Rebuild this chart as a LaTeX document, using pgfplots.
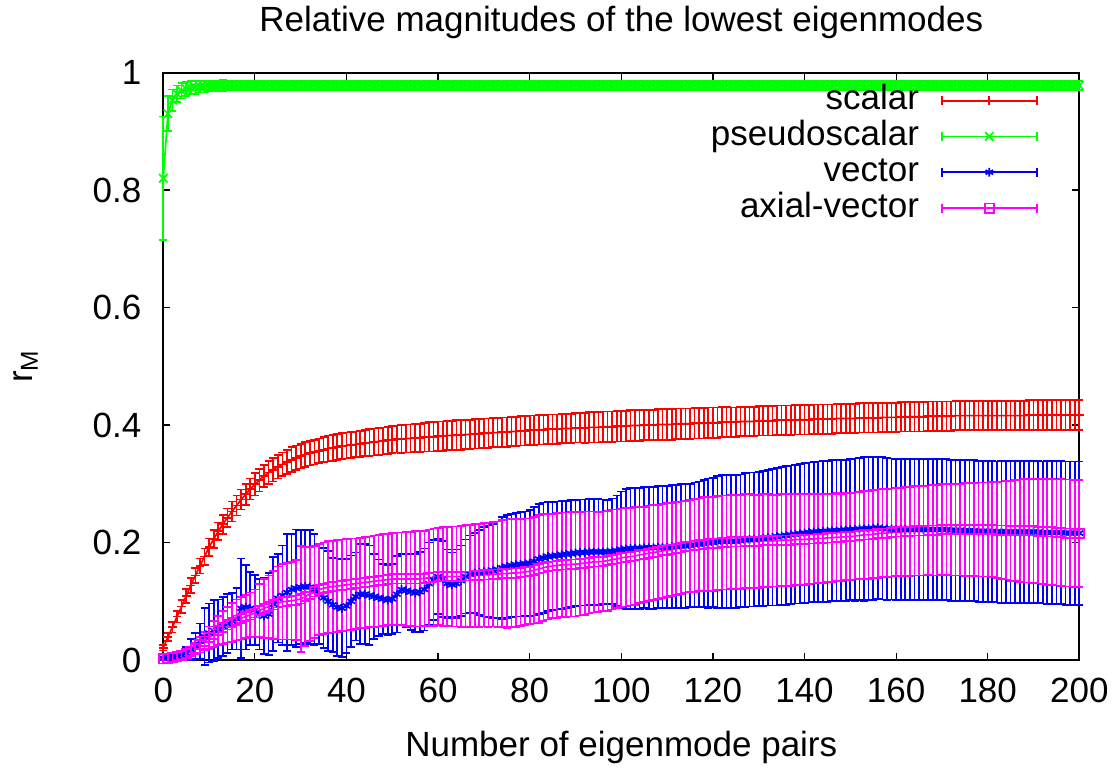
\documentclass[border=0pt]{standalone}
\usepackage{pgfplots}
\usepackage{pgfplotstable}
\pgfplotsset{compat=1.18}
\usepackage{fontspec}
\setmainfont{Liberation Sans}

\definecolor{gpred}{RGB}{255,0,0}
\definecolor{gpgreen}{RGB}{0,255,0}
\definecolor{gpblue}{RGB}{0,0,255}
\definecolor{gpmagenta}{RGB}{255,0,255}

% columns: x = number of eigenmode pairs, y = r_M, e = error
\pgfplotstableread[row sep=\\]{
x y e\\
0 0.021 0.005\\1 0.039 0.007\\2 0.056 0.009\\3 0.074 0.010\\4 0.091 0.011\\5 0.109 0.012\\6 0.127 0.013\\7 0.144 0.013\\
8 0.160 0.013\\9 0.176 0.014\\10 0.192 0.015\\11 0.206 0.015\\12 0.219 0.015\\13 0.231 0.016\\14 0.242 0.016\\15 0.253 0.017\\
16 0.263 0.017\\17 0.273 0.017\\18 0.282 0.018\\19 0.291 0.018\\20 0.299 0.019\\21 0.306 0.019\\22 0.313 0.019\\23 0.319 0.020\\
24 0.324 0.020\\25 0.329 0.020\\26 0.333 0.020\\27 0.337 0.020\\28 0.341 0.021\\29 0.344 0.021\\30 0.347 0.021\\31 0.350 0.021\\
32 0.352 0.021\\33 0.354 0.021\\34 0.356 0.021\\35 0.358 0.021\\36 0.360 0.022\\37 0.361 0.022\\38 0.363 0.022\\39 0.364 0.022\\
40 0.365 0.022\\41 0.366 0.022\\42 0.367 0.022\\43 0.368 0.022\\44 0.369 0.022\\45 0.370 0.023\\46 0.371 0.023\\47 0.372 0.023\\
48 0.373 0.023\\49 0.374 0.023\\50 0.375 0.023\\51 0.376 0.023\\52 0.376 0.024\\53 0.377 0.024\\54 0.377 0.024\\55 0.378 0.024\\
56 0.378 0.024\\57 0.379 0.024\\58 0.380 0.025\\59 0.380 0.025\\60 0.381 0.025\\61 0.381 0.025\\62 0.382 0.025\\63 0.382 0.025\\
64 0.383 0.025\\65 0.383 0.025\\66 0.384 0.025\\67 0.384 0.025\\68 0.385 0.025\\69 0.385 0.025\\70 0.386 0.025\\71 0.386 0.025\\
72 0.387 0.025\\73 0.387 0.025\\74 0.388 0.025\\75 0.388 0.025\\76 0.389 0.025\\77 0.389 0.025\\78 0.390 0.025\\79 0.390 0.025\\
80 0.391 0.025\\81 0.391 0.025\\82 0.392 0.025\\83 0.392 0.025\\84 0.393 0.025\\85 0.393 0.025\\86 0.393 0.025\\87 0.394 0.025\\
88 0.394 0.025\\89 0.394 0.025\\90 0.395 0.025\\91 0.395 0.025\\92 0.395 0.026\\93 0.396 0.026\\94 0.396 0.026\\95 0.396 0.026\\
96 0.397 0.026\\97 0.397 0.026\\98 0.397 0.026\\99 0.398 0.026\\100 0.398 0.026\\101 0.398 0.026\\102 0.399 0.026\\103 0.399 0.026\\
104 0.399 0.026\\105 0.400 0.026\\106 0.400 0.026\\107 0.400 0.026\\108 0.401 0.026\\109 0.401 0.026\\110 0.401 0.026\\111 0.401 0.026\\
112 0.402 0.026\\113 0.402 0.026\\114 0.402 0.026\\115 0.402 0.026\\116 0.403 0.026\\117 0.403 0.026\\118 0.403 0.026\\119 0.404 0.026\\
120 0.404 0.026\\121 0.404 0.026\\122 0.405 0.026\\123 0.405 0.026\\124 0.405 0.025\\125 0.405 0.025\\126 0.406 0.025\\127 0.406 0.025\\
128 0.406 0.025\\129 0.406 0.025\\130 0.407 0.025\\131 0.407 0.025\\132 0.407 0.025\\133 0.407 0.025\\134 0.408 0.025\\135 0.408 0.025\\
136 0.408 0.025\\137 0.408 0.025\\138 0.409 0.025\\139 0.409 0.025\\140 0.409 0.025\\141 0.409 0.025\\142 0.410 0.025\\143 0.410 0.025\\
144 0.410 0.025\\145 0.410 0.025\\146 0.410 0.025\\147 0.411 0.025\\148 0.411 0.025\\149 0.411 0.025\\150 0.411 0.025\\151 0.411 0.025\\
152 0.412 0.025\\153 0.412 0.025\\154 0.412 0.025\\155 0.412 0.025\\156 0.412 0.025\\157 0.413 0.025\\158 0.413 0.025\\159 0.413 0.025\\
160 0.413 0.025\\161 0.414 0.025\\162 0.414 0.025\\163 0.414 0.025\\164 0.414 0.025\\165 0.414 0.025\\166 0.414 0.025\\167 0.415 0.025\\
168 0.415 0.025\\169 0.415 0.025\\170 0.415 0.025\\171 0.415 0.025\\172 0.415 0.025\\173 0.416 0.025\\174 0.416 0.025\\175 0.416 0.025\\
176 0.416 0.025\\177 0.416 0.025\\178 0.416 0.025\\179 0.416 0.025\\180 0.416 0.025\\181 0.416 0.025\\182 0.416 0.025\\183 0.416 0.025\\
184 0.416 0.025\\185 0.416 0.025\\186 0.416 0.025\\187 0.416 0.025\\188 0.416 0.025\\189 0.417 0.025\\190 0.417 0.025\\191 0.417 0.025\\
192 0.417 0.025\\193 0.417 0.025\\194 0.417 0.025\\195 0.417 0.025\\196 0.417 0.025\\197 0.417 0.025\\198 0.417 0.025\\199 0.417 0.025\\
200 0.417 0.025\\
}\scalar

\pgfplotstableread[row sep=\\]{
x y e\\
0 0.820 0.105\\1 0.930 0.030\\2 0.953 0.018\\3 0.964 0.014\\4 0.969 0.013\\5 0.972 0.012\\6 0.974 0.011\\7 0.975 0.011\\
8 0.976 0.010\\9 0.976 0.010\\10 0.977 0.009\\11 0.977 0.009\\12 0.977 0.009\\13 0.978 0.009\\14 0.978 0.008\\15 0.978 0.008\\
16 0.978 0.008\\17 0.978 0.008\\18 0.978 0.008\\19 0.978 0.008\\20 0.978 0.0075\\21 0.978 0.0075\\22 0.978 0.0075\\23 0.978 0.0075\\
24 0.978 0.0075\\25 0.978 0.0075\\26 0.978 0.0075\\27 0.978 0.0075\\28 0.978 0.0075\\29 0.978 0.0075\\30 0.978 0.0075\\31 0.978 0.0075\\
32 0.978 0.0075\\33 0.978 0.0075\\34 0.978 0.0075\\35 0.978 0.0075\\36 0.978 0.0075\\37 0.978 0.0075\\38 0.978 0.0075\\39 0.978 0.0075\\
40 0.978 0.0075\\41 0.978 0.0075\\42 0.978 0.0075\\43 0.978 0.0075\\44 0.978 0.0075\\45 0.978 0.0075\\46 0.978 0.0075\\47 0.978 0.0075\\
48 0.978 0.0075\\49 0.978 0.0075\\50 0.978 0.0075\\51 0.978 0.0075\\52 0.978 0.0075\\53 0.978 0.0075\\54 0.978 0.0075\\55 0.978 0.0075\\
56 0.978 0.0075\\57 0.978 0.0075\\58 0.978 0.0075\\59 0.978 0.0075\\60 0.978 0.0075\\61 0.978 0.0075\\62 0.978 0.0075\\63 0.978 0.0075\\
64 0.978 0.0075\\65 0.978 0.0075\\66 0.978 0.0075\\67 0.978 0.0075\\68 0.978 0.0075\\69 0.978 0.0075\\70 0.978 0.0075\\71 0.978 0.0075\\
72 0.978 0.0075\\73 0.978 0.0075\\74 0.978 0.0075\\75 0.978 0.0075\\76 0.978 0.0075\\77 0.978 0.0075\\78 0.978 0.0075\\79 0.978 0.0075\\
80 0.978 0.0075\\81 0.978 0.0075\\82 0.978 0.0075\\83 0.978 0.0075\\84 0.978 0.0075\\85 0.978 0.0075\\86 0.978 0.0075\\87 0.978 0.0075\\
88 0.978 0.0075\\89 0.978 0.0075\\90 0.978 0.0075\\91 0.978 0.0075\\92 0.978 0.0075\\93 0.978 0.0075\\94 0.978 0.0075\\95 0.978 0.0075\\
96 0.978 0.0075\\97 0.978 0.0075\\98 0.978 0.0075\\99 0.978 0.0075\\100 0.978 0.0075\\101 0.978 0.0075\\102 0.978 0.0075\\103 0.978 0.0075\\
104 0.978 0.0075\\105 0.978 0.0075\\106 0.978 0.0075\\107 0.978 0.0075\\108 0.978 0.0075\\109 0.978 0.0075\\110 0.978 0.0075\\111 0.978 0.0075\\
112 0.978 0.0075\\113 0.978 0.0075\\114 0.978 0.0075\\115 0.978 0.0075\\116 0.978 0.0075\\117 0.978 0.0075\\118 0.978 0.0075\\119 0.978 0.0075\\
120 0.978 0.0075\\121 0.978 0.0075\\122 0.978 0.0075\\123 0.978 0.0075\\124 0.978 0.0075\\125 0.978 0.0075\\126 0.978 0.0075\\127 0.978 0.0075\\
128 0.978 0.0075\\129 0.978 0.0075\\130 0.978 0.0075\\131 0.978 0.0075\\132 0.978 0.0075\\133 0.978 0.0075\\134 0.978 0.0075\\135 0.978 0.0075\\
136 0.978 0.0075\\137 0.978 0.0075\\138 0.978 0.0075\\139 0.978 0.0075\\140 0.978 0.0075\\141 0.978 0.0075\\142 0.978 0.0075\\143 0.978 0.0075\\
144 0.978 0.0075\\145 0.978 0.0075\\146 0.978 0.0075\\147 0.978 0.0075\\148 0.978 0.0075\\149 0.978 0.0075\\150 0.978 0.0075\\151 0.978 0.0075\\
152 0.978 0.0075\\153 0.978 0.0075\\154 0.978 0.0075\\155 0.978 0.0075\\156 0.978 0.0075\\157 0.978 0.0075\\158 0.978 0.0075\\159 0.978 0.0075\\
160 0.978 0.0075\\161 0.978 0.0075\\162 0.978 0.0075\\163 0.978 0.0075\\164 0.978 0.0075\\165 0.978 0.0075\\166 0.978 0.0075\\167 0.978 0.0075\\
168 0.978 0.0075\\169 0.978 0.0075\\170 0.978 0.0075\\171 0.978 0.0075\\172 0.978 0.0075\\173 0.978 0.0075\\174 0.978 0.0075\\175 0.978 0.0075\\
176 0.978 0.0075\\177 0.978 0.0075\\178 0.978 0.0075\\179 0.978 0.0075\\180 0.978 0.0075\\181 0.978 0.0075\\182 0.978 0.0075\\183 0.978 0.0075\\
184 0.978 0.0075\\185 0.978 0.0075\\186 0.978 0.0075\\187 0.978 0.0075\\188 0.978 0.0075\\189 0.978 0.0075\\190 0.978 0.0075\\191 0.978 0.0075\\
192 0.978 0.0075\\193 0.978 0.0075\\194 0.978 0.0075\\195 0.978 0.0075\\196 0.978 0.0075\\197 0.978 0.0075\\198 0.978 0.0075\\199 0.978 0.0075\\
200 0.978 0.0075\\
}\pseudoscalar

\pgfplotstableread[row sep=\\]{
x y e\\
0 0.003 0.002\\1 0.004 0.003\\2 0.005 0.004\\3 0.007 0.005\\4 0.009 0.006\\5 0.012 0.010\\6 0.018 0.018\\7 0.024 0.022\\
8 0.032 0.030\\9 0.040 0.048\\10 0.046 0.050\\11 0.050 0.052\\12 0.053 0.050\\13 0.057 0.050\\14 0.062 0.050\\15 0.066 0.048\\
16 0.070 0.052\\17 0.088 0.085\\18 0.090 0.072\\19 0.088 0.062\\20 0.085 0.060\\21 0.078 0.060\\22 0.075 0.065\\23 0.078 0.070\\
24 0.095 0.080\\25 0.105 0.075\\26 0.110 0.085\\27 0.115 0.100\\28 0.120 0.095\\29 0.122 0.100\\30 0.124 0.097\\31 0.125 0.096\\
32 0.124 0.097\\33 0.120 0.095\\34 0.112 0.085\\35 0.106 0.085\\36 0.100 0.085\\37 0.094 0.080\\38 0.090 0.083\\39 0.088 0.083\\
40 0.092 0.080\\41 0.100 0.078\\42 0.108 0.075\\43 0.112 0.085\\44 0.112 0.085\\45 0.110 0.085\\46 0.108 0.072\\47 0.106 0.065\\
48 0.104 0.060\\49 0.102 0.060\\50 0.104 0.060\\51 0.112 0.065\\52 0.120 0.060\\53 0.118 0.062\\54 0.116 0.065\\55 0.114 0.066\\
56 0.116 0.068\\57 0.120 0.070\\58 0.130 0.070\\59 0.136 0.068\\60 0.142 0.064\\61 0.138 0.065\\62 0.130 0.058\\63 0.128 0.055\\
64 0.130 0.058\\65 0.135 0.060\\66 0.142 0.063\\67 0.146 0.066\\68 0.148 0.068\\69 0.149 0.072\\70 0.150 0.076\\71 0.151 0.078\\
72 0.152 0.080\\73 0.154 0.082\\74 0.157 0.087\\75 0.159 0.088\\76 0.161 0.088\\77 0.162 0.088\\78 0.163 0.089\\79 0.164 0.089\\
80 0.165 0.090\\81 0.168 0.092\\82 0.172 0.094\\83 0.174 0.094\\84 0.176 0.093\\85 0.177 0.092\\86 0.178 0.092\\87 0.179 0.092\\
88 0.180 0.091\\89 0.181 0.091\\90 0.182 0.090\\91 0.183 0.090\\92 0.183 0.090\\93 0.184 0.090\\94 0.184 0.090\\95 0.184 0.090\\
96 0.184 0.089\\97 0.184 0.088\\98 0.185 0.090\\99 0.186 0.094\\100 0.188 0.099\\101 0.189 0.102\\102 0.190 0.103\\103 0.190 0.103\\
104 0.190 0.103\\105 0.191 0.103\\106 0.191 0.104\\107 0.191 0.104\\108 0.192 0.104\\109 0.192 0.104\\110 0.192 0.104\\111 0.193 0.105\\
112 0.193 0.105\\113 0.194 0.105\\114 0.194 0.105\\115 0.195 0.105\\116 0.196 0.106\\117 0.197 0.107\\118 0.198 0.108\\119 0.199 0.110\\
120 0.200 0.110\\121 0.201 0.112\\122 0.202 0.113\\123 0.202 0.113\\124 0.202 0.113\\125 0.202 0.113\\126 0.203 0.113\\127 0.204 0.114\\
128 0.205 0.114\\129 0.205 0.114\\130 0.206 0.114\\131 0.207 0.115\\132 0.208 0.115\\133 0.209 0.116\\134 0.210 0.117\\135 0.211 0.117\\
136 0.212 0.118\\137 0.213 0.118\\138 0.214 0.118\\139 0.215 0.119\\140 0.216 0.119\\141 0.217 0.119\\142 0.218 0.119\\143 0.218 0.120\\
144 0.219 0.120\\145 0.219 0.120\\146 0.220 0.120\\147 0.220 0.120\\148 0.221 0.120\\149 0.221 0.120\\150 0.222 0.120\\151 0.222 0.121\\
152 0.223 0.121\\153 0.223 0.122\\154 0.224 0.122\\155 0.224 0.122\\156 0.225 0.121\\157 0.224 0.121\\158 0.223 0.121\\159 0.223 0.120\\
160 0.222 0.120\\161 0.222 0.120\\162 0.222 0.120\\163 0.222 0.120\\164 0.222 0.120\\165 0.222 0.120\\166 0.222 0.120\\167 0.222 0.120\\
168 0.222 0.120\\169 0.222 0.120\\170 0.222 0.120\\171 0.222 0.120\\172 0.221 0.120\\173 0.221 0.120\\174 0.221 0.120\\175 0.220 0.120\\
176 0.220 0.120\\177 0.220 0.120\\178 0.219 0.120\\179 0.219 0.120\\180 0.219 0.120\\181 0.219 0.120\\182 0.218 0.120\\183 0.218 0.121\\
184 0.218 0.121\\185 0.218 0.121\\186 0.218 0.121\\187 0.218 0.121\\188 0.218 0.121\\189 0.218 0.121\\190 0.218 0.121\\191 0.218 0.121\\
192 0.217 0.121\\193 0.217 0.122\\194 0.217 0.122\\195 0.217 0.122\\196 0.217 0.122\\197 0.216 0.122\\198 0.216 0.122\\199 0.216 0.122\\
200 0.216 0.122\\
}\vector

\pgfplotstableread[row sep=\\]{
x y e\\
0 0.002 0.002\\1 0.003 0.002\\2 0.004 0.003\\3 0.006 0.004\\4 0.008 0.005\\5 0.011 0.006\\6 0.015 0.008\\7 0.020 0.010\\
8 0.026 0.013\\9 0.032 0.016\\10 0.038 0.019\\11 0.044 0.022\\12 0.050 0.025\\13 0.055 0.028\\14 0.060 0.030\\15 0.064 0.033\\
16 0.068 0.035\\17 0.071 0.036\\18 0.074 0.037\\19 0.077 0.038\\20 0.080 0.040\\21 0.084 0.045\\22 0.088 0.050\\23 0.091 0.053\\
24 0.094 0.058\\25 0.097 0.062\\26 0.099 0.064\\27 0.100 0.065\\28 0.101 0.066\\29 0.102 0.068\\30 0.104 0.090\\31 0.108 0.084\\
32 0.112 0.080\\33 0.116 0.078\\34 0.120 0.078\\35 0.122 0.078\\36 0.124 0.078\\37 0.125 0.078\\38 0.126 0.078\\39 0.127 0.078\\
40 0.128 0.078\\41 0.129 0.078\\42 0.130 0.077\\43 0.131 0.077\\44 0.132 0.077\\45 0.133 0.077\\46 0.134 0.078\\47 0.135 0.078\\
48 0.136 0.078\\49 0.137 0.078\\50 0.138 0.078\\51 0.138 0.079\\52 0.138 0.079\\53 0.138 0.080\\54 0.138 0.080\\55 0.138 0.081\\
56 0.138 0.081\\57 0.139 0.081\\58 0.140 0.082\\59 0.141 0.083\\60 0.142 0.083\\61 0.142 0.084\\62 0.142 0.084\\63 0.142 0.085\\
64 0.142 0.085\\65 0.142 0.086\\66 0.143 0.087\\67 0.143 0.087\\68 0.144 0.088\\69 0.144 0.088\\70 0.145 0.088\\71 0.145 0.089\\
72 0.146 0.089\\73 0.146 0.090\\74 0.147 0.091\\75 0.147 0.092\\76 0.148 0.092\\77 0.148 0.092\\78 0.149 0.091\\79 0.150 0.091\\
80 0.151 0.090\\81 0.153 0.091\\82 0.155 0.092\\83 0.157 0.091\\84 0.159 0.090\\85 0.160 0.089\\86 0.161 0.089\\87 0.162 0.089\\
88 0.162 0.089\\89 0.163 0.089\\90 0.163 0.089\\91 0.164 0.088\\92 0.165 0.088\\93 0.166 0.087\\94 0.167 0.086\\95 0.167 0.085\\
96 0.168 0.085\\97 0.169 0.085\\98 0.171 0.085\\99 0.172 0.084\\100 0.174 0.084\\101 0.175 0.084\\102 0.176 0.083\\103 0.177 0.083\\
104 0.179 0.082\\105 0.180 0.081\\106 0.182 0.081\\107 0.183 0.081\\108 0.184 0.080\\109 0.186 0.080\\110 0.187 0.080\\111 0.188 0.079\\
112 0.190 0.079\\113 0.191 0.079\\114 0.193 0.078\\115 0.194 0.078\\116 0.195 0.079\\117 0.196 0.079\\118 0.197 0.080\\119 0.198 0.080\\
120 0.198 0.080\\121 0.199 0.080\\122 0.200 0.080\\123 0.200 0.080\\124 0.201 0.080\\125 0.201 0.080\\126 0.201 0.080\\127 0.202 0.080\\
128 0.202 0.080\\129 0.202 0.079\\130 0.202 0.079\\131 0.203 0.079\\132 0.203 0.079\\133 0.203 0.078\\134 0.203 0.078\\135 0.204 0.078\\
136 0.204 0.078\\137 0.204 0.078\\138 0.205 0.077\\139 0.205 0.077\\140 0.205 0.077\\141 0.206 0.077\\142 0.206 0.076\\143 0.207 0.076\\
144 0.207 0.076\\145 0.208 0.075\\146 0.208 0.075\\147 0.209 0.075\\148 0.209 0.074\\149 0.210 0.074\\150 0.210 0.074\\151 0.211 0.074\\
152 0.212 0.074\\153 0.213 0.075\\154 0.213 0.075\\155 0.214 0.075\\156 0.215 0.075\\157 0.216 0.075\\158 0.216 0.075\\159 0.217 0.075\\
160 0.218 0.075\\161 0.218 0.075\\162 0.219 0.075\\163 0.219 0.076\\164 0.220 0.076\\165 0.220 0.076\\166 0.220 0.076\\167 0.221 0.076\\
168 0.221 0.077\\169 0.221 0.077\\170 0.222 0.077\\171 0.222 0.077\\172 0.222 0.078\\173 0.222 0.078\\174 0.222 0.078\\175 0.222 0.079\\
176 0.222 0.079\\177 0.222 0.079\\178 0.222 0.080\\179 0.222 0.080\\180 0.222 0.080\\181 0.222 0.081\\182 0.221 0.082\\183 0.221 0.083\\
184 0.221 0.084\\185 0.220 0.085\\186 0.220 0.086\\187 0.220 0.087\\188 0.220 0.088\\189 0.220 0.088\\190 0.220 0.089\\191 0.219 0.089\\
192 0.219 0.090\\193 0.218 0.090\\194 0.218 0.090\\195 0.217 0.090\\196 0.217 0.091\\197 0.216 0.091\\198 0.216 0.091\\199 0.215 0.091\\
200 0.215 0.091\\
}\axialvector

\begin{document}
\fontsize{17.5pt}{21pt}\selectfont
\begin{tikzpicture}
\begin{axis}[
  at={(0,0)}, anchor=south west,
  scale only axis, width=458pt, height=293.75pt,
  xmin=0, xmax=200, ymin=0, ymax=1,
  clip=false,
  xtick={0,20,...,200},
  ytick={0,0.2,0.4,0.6,0.8,1},
  tick align=inside,
  major tick length=3.5pt,
  every tick/.style={black, line width=0.6pt},
  axis line style={black, line width=1pt},
  /pgf/number format/assume math mode=true,
  xticklabel style={anchor=center, inner sep=0pt, yshift=-15pt},
  yticklabel style={anchor=east, inner sep=0pt, xshift=-10.8pt},
  every axis title shift=0pt,
  title={Relative magnitudes of the lowest eigenmodes},
  title style={at={(axis description cs:0.5,1)}, anchor=center, inner sep=0pt, yshift=25.25pt},
  xlabel={Number of eigenmode pairs},
  xlabel style={at={(axis description cs:0.5,0)}, anchor=center, inner sep=0pt, yshift=-43.5pt},
  ylabel={r\textsubscript{M}},
  ylabel style={at={(axis description cs:-0.15,0.5)}, anchor=center, inner sep=0pt},
  every axis plot/.append style={line width=0.85pt},
  error bars/y dir=both,
  error bars/y explicit,
  error bars/error bar style={line width=0.85pt},
  error bars/error mark options={rotate=90, line width=0.85pt, mark size=2pt},
  legend cell align=right,
  legend plot pos=right,
  legend style={draw=none, fill=none, at={(0.955,0.98)}, anchor=north east,
    inner sep=0pt, row sep=1.9pt, column sep=11pt,
    nodes={inner sep=0pt, text height=12.5pt, text depth=3.5pt}},
  legend image code/.code={
    \draw[mark repeat=2, mark phase=2, #1] plot coordinates {(0pt,0pt) (23.75pt,0pt) (47.5pt,0pt)};
    \draw[#1] (0pt,-2.25pt) -- (0pt,2.25pt) (47.5pt,-2.25pt) -- (47.5pt,2.25pt);
  },
]
\addplot[gpred, mark=+, mark size=2.2pt] table[x=x, y=y, y error=e] {\scalar};
\addlegendentry{scalar}
\addplot[gpgreen, mark=x, mark size=3pt] table[x=x, y=y, y error=e] {\pseudoscalar};
\addlegendentry{pseudoscalar}
\addplot[gpblue, mark=asterisk, mark size=2.2pt] table[x=x, y=y, y error=e] {\vector};
\addlegendentry{vector}
\addplot[gpmagenta, mark=square, mark size=2.3pt] table[x=x, y=y, y error=e] {\axialvector};
\addlegendentry{axial-vector}
\end{axis}
\pgfresetboundingbox
\path[use as bounding box] (-81.65pt,-54pt) rectangle (478.35pt,330pt);
\end{tikzpicture}
\end{document}
